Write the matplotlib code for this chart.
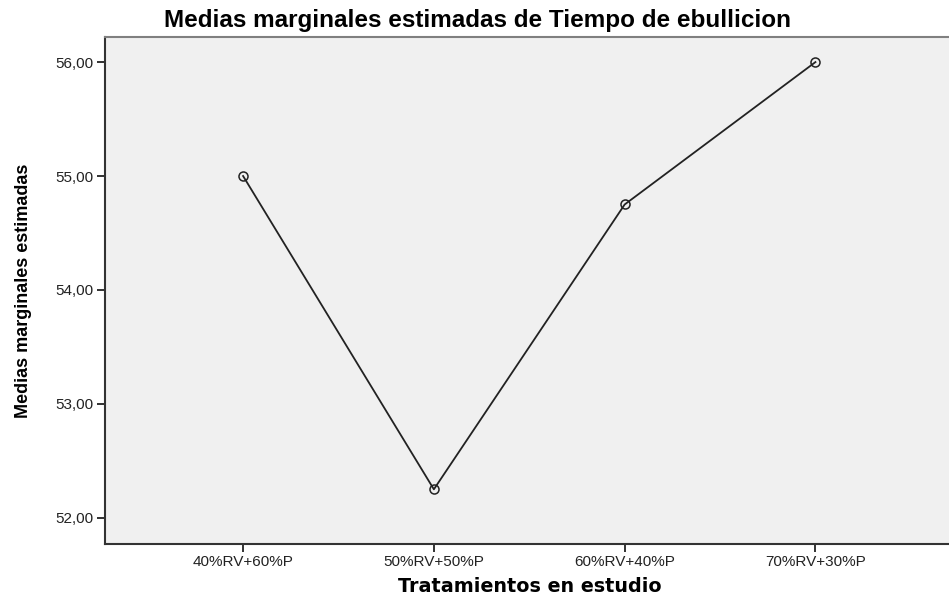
import matplotlib
matplotlib.use("Agg")
import matplotlib.pyplot as plt
from matplotlib.ticker import FuncFormatter

# --- Data ---
tratamientos = ["40%RV+60%P", "50%RV+50%P", "60%RV+40%P", "70%RV+30%P"]
medias = [55.00, 52.25, 54.75, 56.00]
y_ticks = [52, 53, 54, 55, 56]

fig = plt.figure(figsize=(9.49, 5.98), dpi=100)
ax = fig.add_axes([0.1106, 0.0903, 0.8894, 0.8478])
ax.set_facecolor("#f0f0f0")

x = list(range(len(tratamientos)))
ax.plot(x, medias, color="#222222", lw=1.3,
        marker="o", markersize=6.5, markerfacecolor="none",
        markeredgecolor="#222222", markeredgewidth=1.1)

ax.set_xlim(-0.724, 3.70)
ax.set_ylim(51.77, 56.22)
ax.set_xticks(x)
ax.set_xticklabels(tratamientos)
ax.set_yticks(y_ticks)
# comma decimal separator, as in the original
ax.yaxis.set_major_formatter(FuncFormatter(lambda v, p: f"{v:.2f}".replace(".", ",")))

ax.tick_params(axis="both", labelsize=11, colors="#222222", length=6, width=1.3,
               labelcolor="#222222", pad=2)
for lbl in ax.get_xticklabels() + ax.get_yticklabels():
    lbl.set_family("Liberation Sans")

ax.spines["right"].set_visible(False)
ax.spines["top"].set_color("#808080")
ax.spines["top"].set_linewidth(1.5)
for s in ("left", "bottom"):
    ax.spines[s].set_color("#333333")
    ax.spines[s].set_linewidth(1.5)

fig.text(0.503, 0.966, "Medias marginales estimadas de Tiempo de ebullicion",
         ha="center", va="center", fontsize=17.5, fontweight="bold",
         family="Liberation Sans")
fig.text(0.558, 0.020, "Tratamientos en estudio", ha="center", va="center",
         fontsize=13.8, fontweight="bold", family="DejaVu Sans")
fig.text(0.025, 0.513, "Medias marginales estimadas", ha="center", va="center",
         rotation=90, fontsize=13, fontweight="bold",
         family=["Liberation Sans Narrow", "Liberation Sans"])

fig.savefig("out.png", dpi=100)
